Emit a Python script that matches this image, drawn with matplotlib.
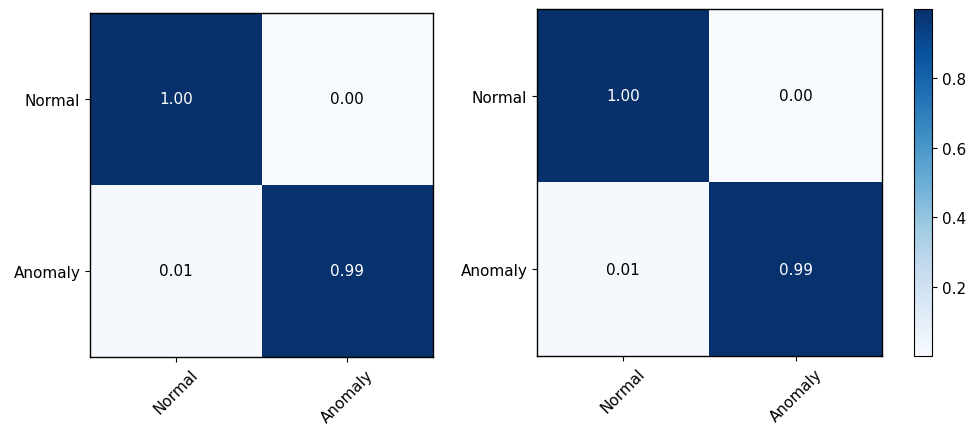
import matplotlib
matplotlib.use("Agg")
import matplotlib.pyplot as plt
import numpy as np

classes = ["Normal", "Anomaly"]
cm_left = np.array([[0.997, 0.003],
                    [0.011, 0.989]])
cm_right = np.array([[0.997, 0.003],
                     [0.011, 0.989]])

W, H = 969, 427
fig = plt.figure(figsize=(W / 100, H / 100), dpi=100)


def box(x0, y0, x1, y1):
    return [x0 / W, 1 - y1 / H, (x1 - x0) / W, (y1 - y0) / H]


ax1 = fig.add_axes(box(90, 14, 433, 358))
ax2 = fig.add_axes(box(537, 10, 882, 357))
cax = fig.add_axes(box(914, 10, 932, 357))


def draw_cm(ax, cm):
    im = ax.imshow(cm, interpolation="nearest", cmap=plt.cm.Blues, aspect="auto")
    ticks = np.arange(len(classes))
    ax.set_xticks(ticks)
    ax.set_xticklabels(classes, rotation=45, fontsize=11)
    ax.set_yticks(ticks)
    ax.set_yticklabels(classes, fontsize=11)
    thresh = cm.max() / 2.0
    for i in range(cm.shape[0]):
        for j in range(cm.shape[1]):
            ax.text(j, i, format(cm[i, j], ".2f"),
                    ha="center", va="center", fontsize=11,
                    color="white" if cm[i, j] > thresh else "black")
    for s in ax.spines.values():
        s.set_linewidth(1.0)
    return im


draw_cm(ax1, cm_left)
im = draw_cm(ax2, cm_right)
cb = fig.colorbar(im, cax=cax)
cb.set_ticks([0.2, 0.4, 0.6, 0.8])
cb.ax.tick_params(labelsize=11)

fig.savefig("out.png", dpi=100)
